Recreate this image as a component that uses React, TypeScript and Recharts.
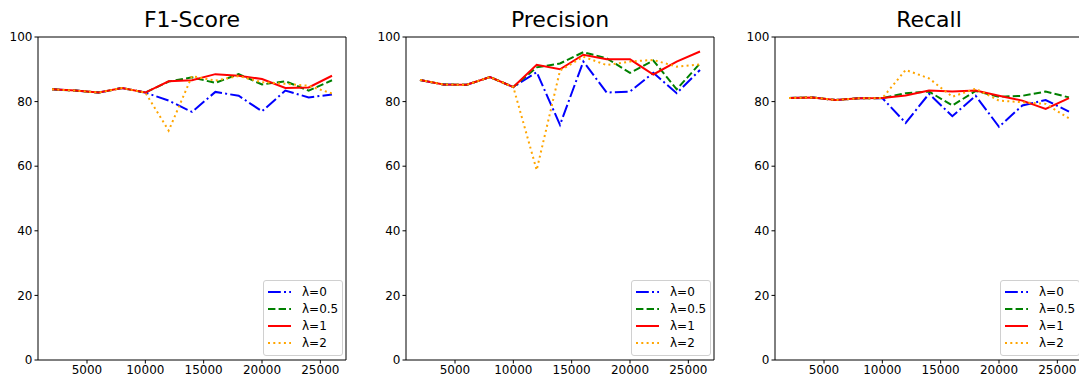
import React from "react"
import { LineChart, Line, XAxis, YAxis, ReferenceLine } from "recharts"

const FONT = "'DejaVu Sans', sans-serif"

// training set sizes
const sizes = [2000, 4000, 6000, 8000, 10000, 12000, 14000, 16000, 18000, 20000, 22000, 24000, 26000]
const xTicks = [5000, 10000, 15000, 20000, 25000]
const yTicks = [0, 20, 40, 60, 80, 100]
const lambdaLabels = ["λ=0", "λ=0.5", "λ=1", "λ=2"]

// F1-Score
const f1Lambda0 = [83.8, 83.4, 82.8, 84.2, 82.8, 80.3, 76.8, 83.0, 81.8, 77.0, 83.4, 81.3, 82.2]
const f1Lambda05 = [83.8, 83.4, 82.8, 84.2, 82.8, 86.2, 87.5, 85.8, 88.5, 85.3, 86.3, 83.4, 86.6]
const f1Lambda1 = [83.8, 83.4, 82.8, 84.2, 82.8, 86.3, 86.6, 88.5, 88.0, 87.0, 84.2, 84.4, 88.0]
const f1Lambda2 = [83.8, 83.4, 82.8, 84.2, 82.8, 71.0, 87.9, 86.5, 87.9, 86.0, 85.5, 84.9, 82.5]

// Precision
const precLambda0 = [86.7, 85.3, 85.2, 87.6, 84.5, 89.1, 72.8, 92.4, 82.8, 83.1, 88.9, 82.6, 89.8]
const precLambda05 = [86.7, 85.3, 85.2, 87.6, 84.5, 90.6, 91.8, 95.3, 93.4, 88.9, 92.7, 83.8, 91.8]
const precLambda1 = [86.7, 85.3, 85.2, 87.6, 84.5, 91.4, 90.0, 94.5, 93.1, 93.1, 88.4, 92.4, 95.5]
const precLambda2 = [86.7, 85.3, 85.2, 87.6, 84.5, 58.8, 89.6, 93.9, 91.3, 92.4, 92.9, 90.8, 91.5]

// Recall
const recLambda0 = [81.1, 81.3, 80.5, 81.0, 81.1, 73.4, 82.4, 75.5, 81.8, 72.2, 78.8, 80.5, 76.9]
const recLambda05 = [81.1, 81.3, 80.5, 81.0, 81.1, 82.6, 83.1, 78.8, 83.3, 81.5, 81.8, 83.1, 81.3]
const recLambda1 = [81.1, 81.3, 80.5, 81.0, 81.1, 81.9, 83.4, 83.1, 83.4, 81.8, 80.3, 77.7, 81.1]
const recLambda2 = [81.1, 81.3, 80.5, 81.0, 81.1, 89.8, 87.2, 81.5, 84.0, 80.3, 79.8, 79.3, 74.8]

const lineStyles = [
  { key: "l0", color: "#0000ff", dash: "12.8 3.2 2 3.2" },
  { key: "l05", color: "#008000", dash: "7.4 3.2" },
  { key: "l1", color: "#ff0000", dash: undefined },
  { key: "l2", color: "#ffa500", dash: "2 3.3" },
]

function LegendBox() {
  return (
    <div
      style={{
        position: "absolute",
        left: 263,
        top: 280,
        width: 78,
        height: 74,
        background: "rgba(255,255,255,0.8)",
        border: "1px solid #d0d0d0",
        borderRadius: 3,
        fontFamily: FONT,
        fontSize: 12,
        color: "#000",
      }}
    >
      {lineStyles.map((s, i) => (
        <div key={s.key} style={{ position: "absolute", left: 4, top: 2 + i * 17.3, height: 17, display: "flex", alignItems: "center" }}>
          <svg width={24} height={6}>
            <line x1={0} y1={3} x2={23} y2={3} stroke={s.color} strokeWidth={2} strokeDasharray={s.dash} />
          </svg>
          <span style={{ marginLeft: 10 }}>{lambdaLabels[i]}</span>
        </div>
      ))}
    </div>
  )
}

function Panel({ title, left, series }: { title: string; left: number; series: number[][] }) {
  const data = sizes.map((x, i) => ({
    x,
    l0: series[0][i],
    l05: series[1][i],
    l1: series[2][i],
    l2: series[3][i],
  }))
  const tickStyle = { fill: "#000", fontSize: 12, fontFamily: FONT }

  return (
    <div style={{ position: "absolute", left, top: 0, width: 360, height: 381 }}>
      <div style={{ position: "absolute", top: 7, left: 38, width: 308, textAlign: "center", fontSize: 22, fontFamily: FONT, color: "#000" }}>
        {title}
      </div>
      <LineChart width={360} height={381} data={data} margin={{ top: 37, right: 14, bottom: 0, left: 0 }}>
        <XAxis
          dataKey="x"
          type="number"
          domain={[800, 27200]}
          ticks={xTicks}
          tick={tickStyle}
          tickSize={3.5}
          height={21}
          stroke="#000"
          allowDataOverflow
        />
        <YAxis
          type="number"
          domain={[0, 100]}
          ticks={yTicks}
          tick={tickStyle}
          tickSize={3.5}
          width={38}
          stroke="#000"
        />
        <ReferenceLine y={100} stroke="#000" />
        <ReferenceLine x={27200} stroke="#000" />
        {lineStyles.map((s) => (
          <Line
            key={s.key}
            dataKey={s.key}
            stroke={s.color}
            strokeWidth={2}
            strokeDasharray={s.dash}
            dot={false}
            activeDot={false}
            isAnimationActive={false}
          />
        ))}
      </LineChart>
      <LegendBox />
    </div>
  )
}

export default function App() {
  return (
    <div style={{ position: "relative", width: 1079, height: 381, overflow: "hidden", background: "#fff" }}>
      <style>{"body{margin:0}"}</style>
      <Panel title="F1-Score" left={0} series={[f1Lambda0, f1Lambda05, f1Lambda1, f1Lambda2]} />
      <Panel title="Precision" left={368} series={[precLambda0, precLambda05, precLambda1, precLambda2]} />
      <Panel title="Recall" left={737} series={[recLambda0, recLambda05, recLambda1, recLambda2]} />
    </div>
  )
}
